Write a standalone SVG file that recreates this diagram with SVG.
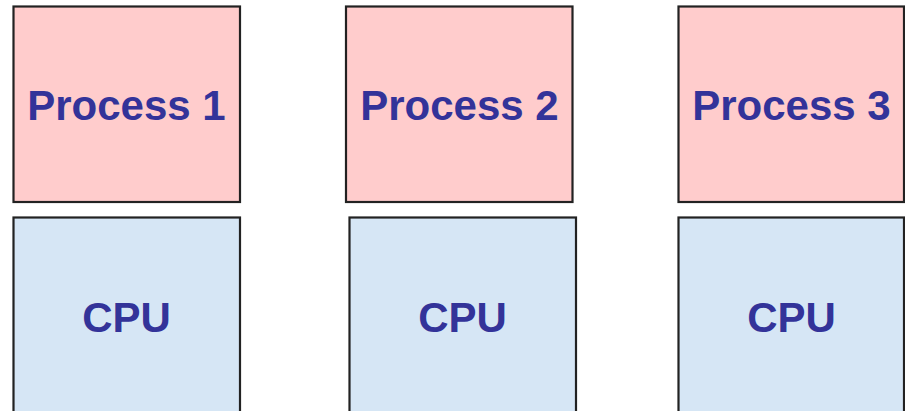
<svg xmlns="http://www.w3.org/2000/svg" width="905" height="411" viewBox="0 0 905 411">
  <style>
    .box { stroke: #222222; stroke-width: 2.2; }
    .proc { fill: #ffcccc; }
    .cpu { fill: #d6e6f5; }
    .label { font-family: "Liberation Sans", Arial, sans-serif; font-weight: bold; font-size: 42px; fill: #333399; text-anchor: middle; }
  </style>
  <rect width="905" height="411" fill="#ffffff"/>
  <g id="process1">
    <rect class="box proc" x="13.5" y="6.5" width="226.5" height="195.5"/>
    <text class="label" x="126.5" y="120">Process 1</text>
  </g>
  <g id="process2">
    <rect class="box proc" x="346" y="6.5" width="226.5" height="195.5"/>
    <text class="label" x="459.5" y="120">Process 2</text>
  </g>
  <g id="process3">
    <rect class="box proc" x="678.5" y="6.5" width="225.5" height="195.5"/>
    <text class="label" x="791.5" y="120">Process 3</text>
  </g>
  <g id="cpu1">
    <rect class="box cpu" x="13.5" y="217.5" width="226.5" height="200"/>
    <text class="label" x="126.5" y="332">CPU</text>
  </g>
  <g id="cpu2">
    <rect class="box cpu" x="349.5" y="217.5" width="226.5" height="200"/>
    <text class="label" x="462.5" y="332">CPU</text>
  </g>
  <g id="cpu3">
    <rect class="box cpu" x="678.5" y="217.5" width="225.5" height="200"/>
    <text class="label" x="791.5" y="332">CPU</text>
  </g>
  <g id="connectors"/>
</svg>
